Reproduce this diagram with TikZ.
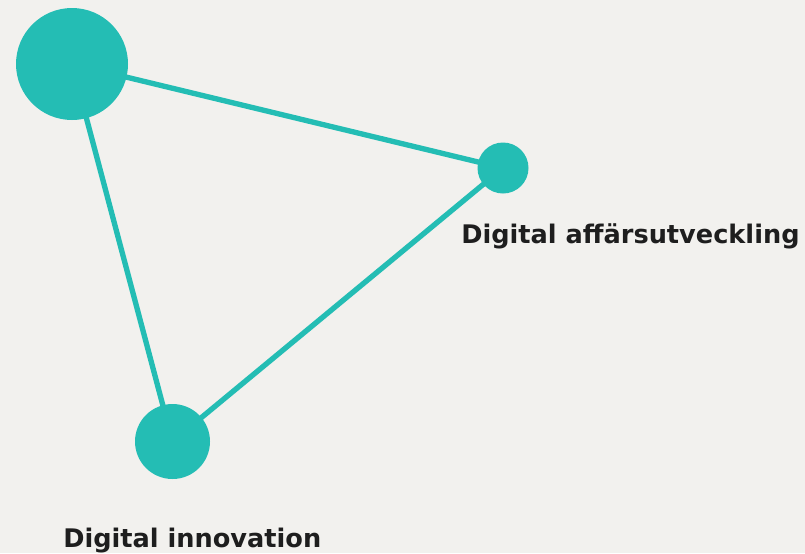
\documentclass[tikz,border=0pt]{standalone}
\usepackage{fontspec}
\setmainfont{DejaVu Sans}
\usetikzlibrary{positioning}
\usetikzlibrary{backgrounds}
\definecolor{tealdot}{RGB}{36,189,180}
\definecolor{paper}{RGB}{242,241,238}
\definecolor{ink}{RGB}{30,30,30}
\tikzset{
  dot/.style={circle,fill=tealdot,draw=none,inner sep=0pt},
  link/.style={draw=tealdot,line width=4pt},
  caption/.style={inner sep=0pt,text=ink,font=\bfseries\fontsize{19.2}{23}\selectfont}
}

\begin{document}
\begin{tikzpicture}[x=0.75pt,y=0.75pt,yscale=-1,xscale=1]
%set diagram left start at 0, and has height of 553

%Shape: Circle
\node [dot,minimum size=84pt] (hub) at (72,64) {};
%Shape: Circle
\node [dot,minimum size=38.25pt] (affar) at (503,168) {};
%Shape: Circle
\node [dot,minimum size=56.25pt] (innov) at (172.5,441.5) {};

% Text Node
\node [caption,anchor=base west] (affartext) at (461,243) {Digital affärsutveckling};
% Text Node
\node [caption,anchor=base west] (innovtext) at (63,547) {Digital innovation};

\begin{pgfonlayer}{background}
\fill [paper] (0,0) rectangle (805,553);
%Straight Lines
\draw [link] (hub.center) -- (affar.center) -- (innov.center) -- cycle;
\end{pgfonlayer}

\end{tikzpicture}
\end{document}
